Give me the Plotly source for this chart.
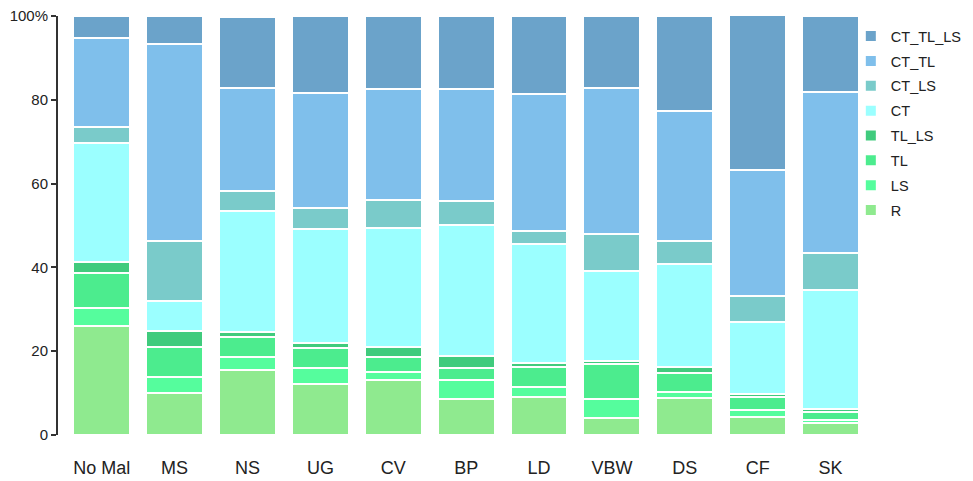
import plotly.graph_objects as go

categories = ["No Mal", "MS", "NS", "UG", "CV", "BP", "LD", "VBW", "DS", "CF", "SK"]

R        = [26.0, 10.1, 15.5, 12.1, 13.1,  8.6,  9.1,  4.0,  8.8,  4.4,  2.9]
LS       = [ 4.2,  3.8,  3.2,  3.8,  2.0,  4.5,  2.4,  4.6,  1.5,  1.6,  0.7]
TL       = [ 8.5,  7.2,  4.8,  4.8,  3.6,  3.0,  4.8,  8.3,  4.6,  3.1,  1.9]
TL_LS    = [ 2.7,  3.8,  1.2,  1.2,  2.4,  2.8,  0.9,  0.8,  1.4,  0.6,  0.6]
CT       = [28.4,  7.1, 28.7, 27.2, 28.4, 31.2, 28.4, 21.5, 24.4, 17.2, 28.5]
CT_LS    = [ 3.6, 14.4,  4.9,  5.0,  6.7,  5.7,  3.1,  8.7,  5.7,  6.2,  8.8]
CT_TL    = [21.3, 46.8, 24.5, 27.6, 26.4, 26.8, 32.7, 34.8, 31.0, 30.1, 38.4]
CT_TL_LS = [ 5.3,  6.8, 16.9, 18.3, 17.4, 17.4, 18.5, 17.3, 22.6, 37.4, 18.2]

series = [
    ("R", R, "#8fea8f"),
    ("LS", LS, "#55fd9d"),
    ("TL", TL, "#4cec8e"),
    ("TL_LS", TL_LS, "#40cb7d"),
    ("CT", CT, "#9bffff"),
    ("CT_LS", CT_LS, "#7acbca"),
    ("CT_TL", CT_TL, "#7fbfeb"),
    ("CT_TL_LS", CT_TL_LS, "#6ba3ca"),
]

fig = go.Figure()
n = len(series)
for i, (name, vals, color) in enumerate(series):
    fig.add_trace(go.Bar(
        x=categories, y=vals, name=name, legendgroup=name,
        legendrank=n - i,
        marker=dict(color=color, line=dict(color="white", width=2)),
    ))

fig.update_layout(
    barmode="stack",
    bargap=0.22,
    width=965, height=473,
    margin=dict(l=50, r=106, t=8, b=46, autoexpand=False),
    paper_bgcolor="white", plot_bgcolor="white",
    font=dict(family="Liberation Sans, Arial, sans-serif", size=14, color="#222"),
    legend=dict(x=0.98, y=0.99, xanchor="left", yanchor="top",
                bgcolor="rgba(0,0,0,0)",
                traceorder="grouped", tracegroupgap=3,
                font=dict(size=14.5, color="#222")),
    xaxis=dict(range=[-0.6, 10.5], showline=False, showgrid=False, ticks="",
               automargin=False,
               ticklabelstandoff=20, tickfont=dict(size=18)),
    yaxis=dict(range=[0, 100], showgrid=False, zeroline=False, showline=True,
               automargin=False, ticklabeloverflow="allow",
               linecolor="#333", linewidth=2, ticks="outside", ticklen=5,
               tickcolor="#333", tickwidth=2,
               tickvals=[0, 20, 40, 60, 80, 100],
               ticktext=["0", "20", "40", "60", "80", "100%"],
               tickfont=dict(size=15)),
)

fig.write_html("out.html")
